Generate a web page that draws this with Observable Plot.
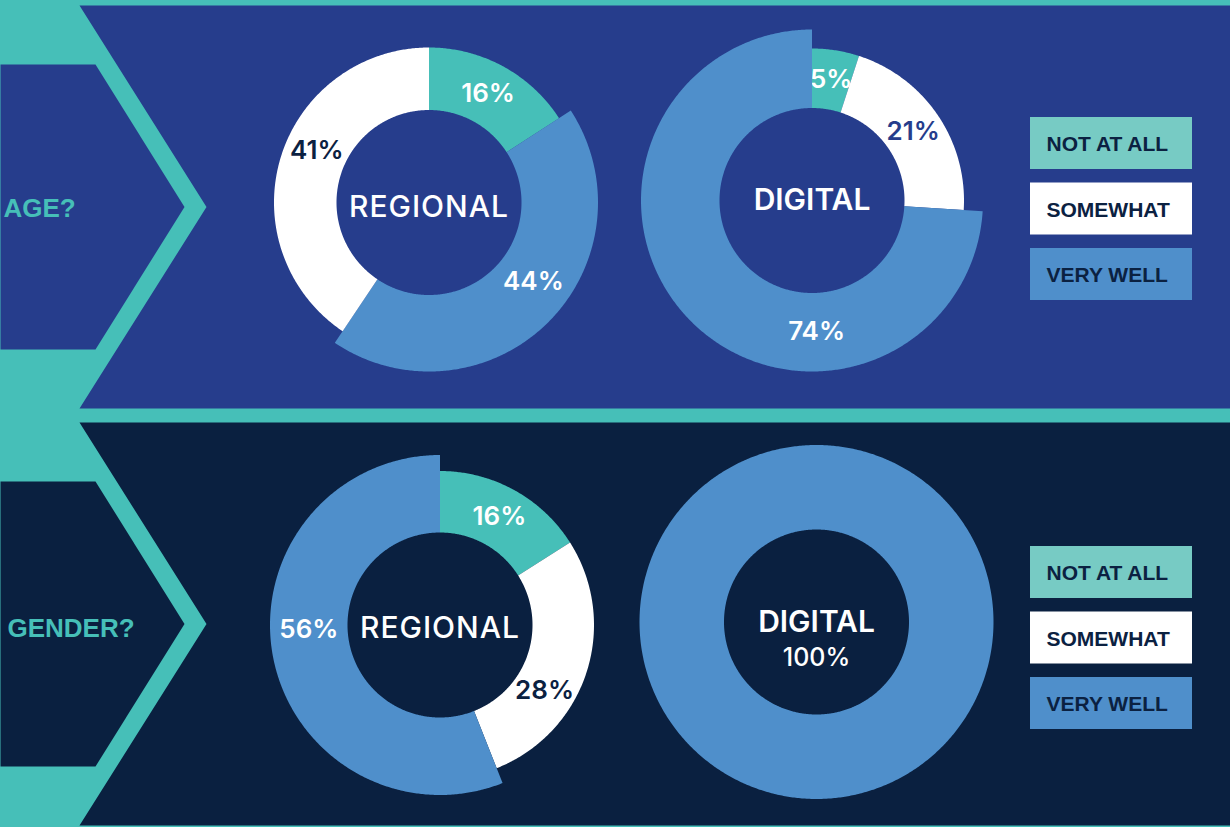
<!DOCTYPE html>
<html><head><meta charset="utf-8">
<script src="https://cdn.jsdelivr.net/npm/d3@7"></script>
<script src="https://cdn.jsdelivr.net/npm/@observablehq/plot@0.6"></script>
<style>html,body{margin:0;padding:0;background:#46bfb8;overflow:hidden}</style>
</head><body><div id="chart"></div>
<script>
// ---------- data ----------
const categories = ["NOT AT ALL", "SOMEWHAT", "VERY WELL"];
const questions = ["AGE?", "GENDER?"];
const audiences = ["REGIONAL", "DIGITAL"];
const ageRegional = [16, 41, 44];
const ageDigital = [5, 21, 74];
const genderRegional = [16, 28, 56];
const genderDigital = [0, 0, 100];

// ---------- styles ----------
const TEAL = "#46bfb8", PANEL_TOP = "#263d8c", PANEL_BOTTOM = "#0a2040",
      BLUE = "#4f8fcb", WHITE = "#ffffff", NAVY = "#0b2141", LEGEND_TEAL = "#77cbc4";
const sliceColor = {"NOT AT ALL": TEAL, "SOMEWHAT": WHITE, "VERY WELL": BLUE};
const legendColor = {"NOT AT ALL": LEGEND_TEAL, "SOMEWHAT": WHITE, "VERY WELL": BLUE};
const FONT = "Inter, 'Noto Sans', sans-serif";
const LFONT = "'Liberation Sans', Arial, sans-serif";

// ---------- layout ----------
const panels = [
  {color: PANEL_TOP, y0: 5, y1: 408, labelX: 3, labelY: 208.5, legendTop: 117},
  {color: PANEL_BOTTOM, y0: 422, y1: 825, labelX: 7, labelY: 628, legendTop: 546}
];
const donuts = [
  {q: 0, a: 0, values: ageRegional, cx: 428.5, cy: 202, r0: 92.5, r1: 155, rBig: 169, order: [0, 2, 1],
   titleDy: 4.5, titleWeight: 500, somewhatColor: NAVY, labelAngle: {"VERY WELL": 127, "SOMEWHAT": 295}},
  {q: 0, a: 1, values: ageDigital, cx: 811.5, cy: 200, r0: 92.5, r1: 152, rBig: 171, order: [0, 1, 2],
   titleDy: 0, titleWeight: 600, somewhatColor: PANEL_TOP, labelAngle: {"VERY WELL": 178}},
  {q: 1, a: 0, values: genderRegional, cx: 439.5, cy: 624.5, r0: 92.5, r1: 154, rBig: 170, order: [0, 1, 2],
   titleDy: 3.5, titleWeight: 500, somewhatColor: NAVY, labelAngle: {"SOMEWHAT": 122, "VERY WELL": 268}},
  {q: 1, a: 1, values: genderDigital, cx: 816, cy: 621.5, r0: 92.5, r1: 154, rBig: 177, order: [0, 1, 2],
   titleDy: 0, titleWeight: 600, somewhatColor: NAVY, labelAngle: {}}
];

function ring(cx, cy, r0, r1, a0, a1) {
  const pts = [];
  const n = Math.max(2, Math.ceil((a1 - a0) / (Math.PI / 360)));
  for (let i = 0; i <= n; i++) { const a = a0 + (a1 - a0) * i / n; pts.push([cx + r1 * Math.sin(a), cy - r1 * Math.cos(a)]); }
  for (let i = n; i >= 0; i--) { const a = a0 + (a1 - a0) * i / n; pts.push([cx + r0 * Math.sin(a), cy - r0 * Math.cos(a)]); }
  return pts;
}

const marks = [];
const X = d => d[0], Y = d => d[1];

// panels & left chevrons
panels.forEach((p, i) => {
  const mid = (p.y0 + p.y1) / 2;
  marks.push(Plot.line([[79, p.y0], [1230, p.y0], [1230, p.y1], [79, p.y1], [206, mid]],
    {x: X, y: Y, fill: p.color, stroke: "none"}));
  marks.push(Plot.line([[0, p.y0 + 59], [95, p.y0 + 59], [184, mid], [95, p.y1 - 59], [0, p.y1 - 59]],
    {x: X, y: Y, fill: p.color, stroke: "none"}));
  marks.push(Plot.text([{x: p.labelX, y: p.labelY, t: questions[i]}],
    {x: "x", y: "y", text: "t", textAnchor: "start", fill: TEAL, fontSize: 26, fontWeight: "bold", fontFamily: LFONT}));
  // legend
  categories.forEach((c, j) => {
    const top = p.legendTop + j * 65.5;
    marks.push(Plot.rect([{x1: 1030, x2: 1192, y1: top, y2: top + 52}],
      {x1: "x1", x2: "x2", y1: "y1", y2: "y2", fill: legendColor[c]}));
    marks.push(Plot.text([{x: 1046, y: top + 27, t: c}],
      {x: "x", y: "y", text: "t", textAnchor: "start", fill: NAVY, fontSize: 21, fontWeight: "bold", fontFamily: LFONT}));
  });
});

// donuts
donuts.forEach(dn => {
  const ordered = dn.order.map(k => ({cat: categories[k], value: dn.values[k]}));
  const arcs = d3.pie().sort(null).value(d => d.value)(ordered);
  let fullLabel = null;
  arcs.forEach(arc => {
    if (arc.data.value <= 0) return;
    const cat = arc.data.cat;
    const big = cat === "VERY WELL";
    const rOut = big ? dn.rBig : dn.r1;
    marks.push(Plot.line(ring(dn.cx, dn.cy, dn.r0, rOut, arc.startAngle, arc.endAngle),
      {x: X, y: Y, fill: sliceColor[cat], stroke: "none"}));
    const txt = arc.data.value + "%";
    if (arc.data.value >= 100) { fullLabel = txt; return; }
    const ang = dn.labelAngle[cat] != null ? dn.labelAngle[cat] * Math.PI / 180 : (arc.startAngle + arc.endAngle) / 2;
    const rl = (dn.r0 + rOut) / 2;
    marks.push(Plot.text([{x: dn.cx + rl * Math.sin(ang), y: dn.cy - rl * Math.cos(ang), t: txt}],
      {x: "x", y: "y", text: "t", fill: cat === "SOMEWHAT" ? dn.somewhatColor : WHITE,
       fontSize: 26, fontWeight: 600, fontFamily: FONT}));
  });
  const title = audiences[dn.a];
  if (fullLabel) {
    marks.push(Plot.text([{x: dn.cx, y: dn.cy + 0.5, t: title}],
      {x: "x", y: "y", text: "t", fill: WHITE, fontSize: 30, fontWeight: dn.titleWeight, fontFamily: FONT}));
    marks.push(Plot.text([{x: dn.cx, y: dn.cy + 35.5, t: fullLabel}],
      {x: "x", y: "y", text: "t", fill: WHITE, fontSize: 25, fontWeight: 500, fontFamily: FONT}));
  } else {
    marks.push(Plot.text([{x: dn.cx, y: dn.cy + dn.titleDy, t: title}],
      {x: "x", y: "y", text: "t", fill: WHITE, fontSize: 30, fontWeight: dn.titleWeight, fontFamily: FONT}));
  }
});

const chart = Plot.plot({
  width: 1230, height: 827, margin: 0,
  x: {domain: [0, 1230], range: [0, 1230], axis: null},
  y: {domain: [0, 827], range: [0, 827], axis: null},
  style: {background: TEAL, overflow: "visible"},
  marks
});
document.getElementById("chart").append(chart);
d3.select(chart).selectAll("text")
  .filter(function () { return this.textContent === "REGIONAL"; })
  .attr("letter-spacing", "1px");
</script>
</body></html>
